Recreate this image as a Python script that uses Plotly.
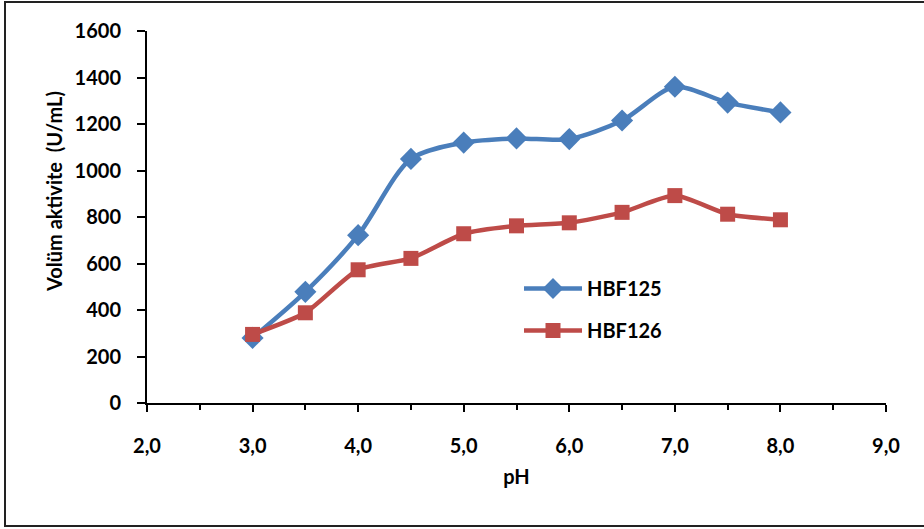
import plotly.graph_objects as go

ph = [3.0, 3.5, 4.0, 4.5, 5.0, 5.5, 6.0, 6.5, 7.0, 7.5, 8.0]
hbf125 = [280, 478, 722, 1050, 1120, 1138, 1135, 1215, 1360, 1292, 1250]
hbf126 = [295, 388, 573, 622, 728, 762, 775, 820, 892, 812, 788]

x_ticks = [2.0, 3.0, 4.0, 5.0, 6.0, 7.0, 8.0, 9.0]
x_labels = ["2,0", "3,0", "4,0", "5,0", "6,0", "7,0", "8,0", "9,0"]
y_ticks = [0, 200, 400, 600, 800, 1000, 1200, 1400, 1600]

W, H = 924, 529
L, R, T, B = 147, 38, 31, 126
FONT = "Lato"

fig = go.Figure()
fig.add_trace(go.Scatter(
    x=ph, y=hbf125, name="HBF125", mode="lines+markers",
    line=dict(color="#4A7EBB", width=4.5, shape="spline", smoothing=0.8),
    marker=dict(symbol="diamond", size=17, color="#4A7EBB"),
    legendgroup="a",
))
fig.add_trace(go.Scatter(
    x=ph, y=hbf126, name="HBF126", mode="lines+markers",
    line=dict(color="#BE4B48", width=4.5, shape="spline", smoothing=0.6),
    marker=dict(symbol="square", size=15, color="#BE4B48"),
    legendgroup="b",
))

pw = W - L - R
ph_ = H - T - B
def px2x(p):
    return (p - L) / pw
def py2y(p):
    return 1 - (p - T) / ph_

fig.add_shape(type="rect", xref="paper", yref="paper",
              x0=px2x(5), x1=px2x(930), y0=py2y(526), y1=py2y(2),
              line=dict(color="#222222", width=2), layer="below")

fig.add_annotation(text="Volüm aktivite  (U/mL)", xref="paper", yref="paper",
                   x=px2x(54), y=py2y(192), xanchor="center", yanchor="middle",
                   textangle=-90, showarrow=False,
                   font=dict(size=20, family=FONT, weight="bold", color="black"))

fig.update_layout(
    width=W, height=H,
    margin=dict(l=L, r=R, t=T, b=B),
    paper_bgcolor="white", plot_bgcolor="white",
    font=dict(family=FONT, size=20, color="black", weight="bold"),
    showlegend=True,
    legend=dict(
        x=px2x(519), y=py2y(269), xanchor="left", yanchor="top",
        bgcolor="rgba(0,0,0,0)", font=dict(size=20, family=FONT, weight="bold"),
        itemwidth=58, tracegroupgap=13, traceorder="grouped",
    ),
    xaxis=dict(
        range=[2.0, 9.0], tickvals=x_ticks, ticktext=x_labels,
        showgrid=False, zeroline=False, showline=True, linecolor="black", linewidth=2,
        ticks="outside", ticklen=7, tickwidth=2, tickcolor="black",
        ticklabelstandoff=17,
        minor=dict(dtick=0.5, ticks="outside", ticklen=5, tickwidth=1.5, tickcolor="black", showgrid=False),
        title=dict(text="pH", standoff=14, font=dict(size=20, family=FONT, weight="bold")),
        tickfont=dict(size=20, family=FONT, weight="bold"),
    ),
    yaxis=dict(
        range=[0, 1600], tickvals=y_ticks,
        showgrid=False, zeroline=False, showline=True, linecolor="black", linewidth=2,
        ticks="outside", ticklen=8, tickwidth=2, tickcolor="black",
        ticklabelstandoff=12,
        tickfont=dict(size=20, family=FONT, weight="bold"),
    ),
)

fig.write_html("out.html")
